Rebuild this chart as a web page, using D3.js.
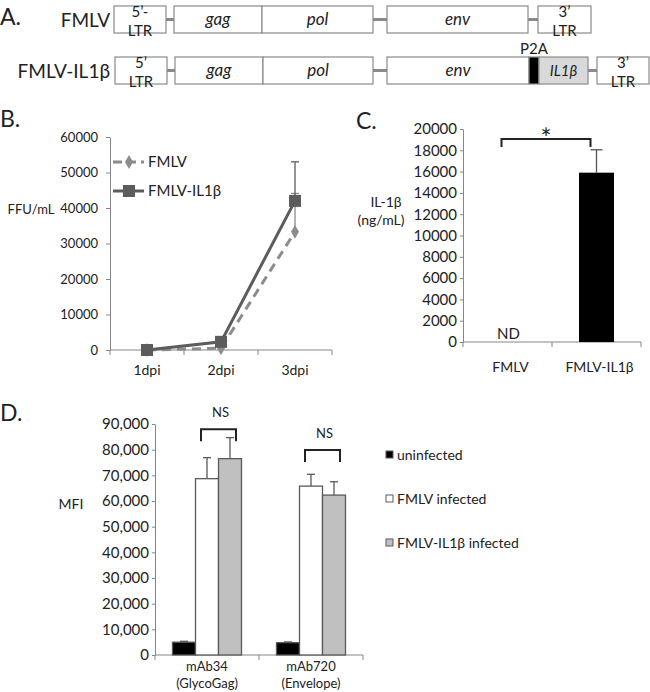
<!DOCTYPE html>
<html>
<head>
<meta charset="utf-8">
<script src="https://cdn.jsdelivr.net/npm/d3@7"></script>
<style>
body { margin: 0; background: #fff; }
svg text { font-family: Lato, "Open Sans", sans-serif; fill: #222; }
</style>
</head>
<body>
<script>
// ---- A. genome maps (positions along the construct, arbitrary units) ----
var fmlvParts = ["5’-|LTR", "gag", "pol", "env", "3’|LTR"];
var fmlvStart = [0, 60, 148, 273, 424];
var fmlvEnd   = [52, 148, 259, 414, 477];
var il1bParts = ["5’|LTR", "gag", "pol", "env", "P2A", "IL1β", "3’|LTR"];
var il1bStart = [1, 61, 149, 273, 415, 425, 483];
var il1bEnd   = [53, 149, 259, 415, 425, 474, 535];

// ---- B. virus titer ----
var days = ["1dpi", "2dpi", "3dpi"];
var titerFmlv = [0, 500, 33300];
var titerFmlvErr = [0, 0, 10800];
var titerIl1b = [0, 2300, 42000];
var titerIl1bErr = [0, 0, 11000];
var titerTicks = [0, 10000, 20000, 30000, 40000, 50000, 60000];

// ---- C. IL-1b ELISA ----
var elisaGroups = ["FMLV", "FMLV-IL1β"];
var elisaConc = [0, 15900];      // FMLV: not detected
var elisaErr = [0, 2150];
var elisaTicks = [0, 2000, 4000, 6000, 8000, 10000, 12000, 14000, 16000, 18000, 20000];

// ---- D. MFI ----
var mfiGroups = ["mAb34|(GlycoGag)", "mAb720|(Envelope)"];
var mfiSeries = ["uninfected", "FMLV infected", "FMLV-IL1β infected"];
var mfiUninf = [5000, 4800];
var mfiUninfErr = [350, 300];
var mfiFmlv = [68700, 65800];
var mfiFmlvErr = [8200, 4600];
var mfiIl1b = [76500, 62300];
var mfiIl1bErr = [8200, 5200];
var mfiTicks = [0, 10000, 20000, 30000, 40000, 50000, 60000, 70000, 80000, 90000];
var nsLevel = [88000, 79900];

var axisColor = "#868686";
var svg = d3.select("body").append("svg").attr("width", 650).attr("height", 692);

function panelLetter(t, x, y) {
  svg.append("text").attr("x", x).attr("y", y).attr("font-size", 23).text(t);
}

function yAxis(scale, x, ticks, fmt, size, pad, fs) {
  var g = svg.append("g").attr("transform", "translate(" + x + ",0)")
    .call(d3.axisLeft(scale).tickValues(ticks).tickFormat(fmt).tickSize(size).tickPadding(pad).tickSizeOuter(0));
  g.selectAll("path,line").attr("stroke", axisColor);
  g.selectAll("text").attr("font-size", fs).attr("fill", "#222");
  return g;
}

function xAxisLine(band, y) {
  var r = band.range();
  svg.append("line").attr("x1", r[0]).attr("x2", r[1]).attr("y1", y).attr("y2", y).attr("stroke", axisColor);
  var bounds = band.domain().map(function(d) { return band(d); }).concat([r[1]]);
  svg.selectAll(null).data(bounds).enter().append("line")
    .attr("x1", function(d) { return d; }).attr("x2", function(d) { return d; })
    .attr("y1", y).attr("y2", y + 5).attr("stroke", axisColor);
}

function errBar(x, y0, y1, w, color) {
  svg.append("line").attr("x1", x).attr("x2", x).attr("y1", y0).attr("y2", y1).attr("stroke", color).attr("stroke-width", 1.3);
  svg.append("line").attr("x1", x - w / 2).attr("x2", x + w / 2).attr("y1", y1).attr("y2", y1).attr("stroke", color).attr("stroke-width", 1.3);
}

// ================= A =================
panelLetter("A.", 0, 25);
var gx = d3.scaleLinear().domain([0, 535]).range([114, 649]);
var rows = [
  {name: "FMLV", parts: fmlvParts, start: fmlvStart, end: fmlvEnd, top: 6},
  {name: "FMLV-IL1β", parts: il1bParts, start: il1bStart, end: il1bEnd, top: 57}
];
var boxH = 27;
rows.forEach(function(r) {
  var cy = r.top + boxH / 2;
  svg.append("text").attr("x", 110).attr("y", cy + 7).attr("text-anchor", "end").attr("font-size", 19).text(r.name);
  for (var i = 0; i < r.parts.length - 1; i++) {
    if (r.end[i] < r.start[i + 1]) {
      svg.append("line").attr("x1", gx(r.end[i])).attr("x2", gx(r.start[i + 1]))
        .attr("y1", cy).attr("y2", cy).attr("stroke", "#8a8a8a").attr("stroke-width", 3);
    }
  }
  r.parts.forEach(function(p, i) {
    var x0 = gx(r.start[i]), x1 = gx(r.end[i]);
    var fill = p === "P2A" ? "#000" : (p === "IL1β" ? "#d9d9d9" : "#fff");
    svg.append("rect").attr("x", x0).attr("y", r.top).attr("width", x1 - x0).attr("height", boxH)
      .attr("fill", fill).attr("stroke", "#8a8a8a").attr("stroke-width", 1.2);
    var mid = (x0 + x1) / 2;
    if (p.indexOf("|") >= 0) {
      var l = p.split("|");
      svg.append("text").attr("x", mid).attr("y", r.top + 11).attr("text-anchor", "middle").attr("font-size", 15).text(l[0]);
      svg.append("text").attr("x", mid).attr("y", r.top + 30).attr("text-anchor", "middle").attr("font-size", 15).text(l[1]);
    } else if (p === "P2A") {
      svg.append("text").attr("x", mid).attr("y", r.top - 3).attr("text-anchor", "middle").attr("font-size", 15).text(p);
    } else {
      svg.append("text").attr("x", mid).attr("y", cy + 5).attr("text-anchor", "middle")
        .attr("font-size", p === "IL1β" ? 15 : 17).attr("font-style", "italic").text(p);
    }
  });
});

// ================= B =================
panelLetter("B.", 0, 127);
var bx = d3.scaleBand().domain(days).range([110, 332]);
var by = d3.scaleLinear().domain([0, 60000]).range([350, 137]);
yAxis(by, 110, titerTicks, d3.format("d"), 4, 8, 13);
xAxisLine(bx, 350);
svg.selectAll(null).data(days).enter().append("text")
  .attr("x", function(d) { return bx(d) + bx.bandwidth() / 2; }).attr("y", 375)
  .attr("text-anchor", "middle").attr("font-size", 14).text(function(d) { return d; });
svg.append("text").attr("x", 31).attr("y", 214).attr("text-anchor", "middle").attr("font-size", 13).text("FFU/mL");

var cxB = function(d, i) { return bx(days[i]) + bx.bandwidth() / 2; };
var colFmlv = "#8c8c8c", colIl1b = "#5c5c5c";
var line = d3.line().x(cxB).y(function(d) { return by(d); });

titerFmlvErr.forEach(function(e, i) { if (e > 0) errBar(cxB(0, i), by(titerFmlv[i]), by(titerFmlv[i] + e), 8, colFmlv); });
titerIl1bErr.forEach(function(e, i) { if (e > 0) errBar(cxB(0, i), by(titerIl1b[i]), by(titerIl1b[i] + e), 8, colIl1b); });

svg.append("path").datum(titerFmlv).attr("d", line).attr("fill", "none")
  .attr("stroke", colFmlv).attr("stroke-width", 3).attr("stroke-dasharray", "9,6");
svg.append("path").datum(titerIl1b).attr("d", line).attr("fill", "none")
  .attr("stroke", colIl1b).attr("stroke-width", 3);
var diamond = d3.symbol().type(d3.symbolDiamond).size(55);
svg.selectAll(null).data(titerFmlv).enter().append("path").attr("d", diamond)
  .attr("transform", function(d, i) { return "translate(" + cxB(d, i) + "," + by(d) + ")"; })
  .attr("fill", colFmlv);
svg.selectAll(null).data(titerIl1b).enter().append("rect")
  .attr("x", function(d, i) { return cxB(d, i) - 6; }).attr("y", function(d) { return by(d) - 6; })
  .attr("width", 12).attr("height", 12).attr("fill", colIl1b);

// legend
var legB = [{name: "FMLV", col: colFmlv, dash: "9,5", y: 162}, {name: "FMLV-IL1β", col: colIl1b, dash: null, y: 191}];
legB.forEach(function(l, i) {
  svg.append("line").attr("x1", 113).attr("x2", 144).attr("y1", l.y).attr("y2", l.y)
    .attr("stroke", l.col).attr("stroke-width", 3).attr("stroke-dasharray", l.dash);
  if (i === 0) svg.append("path").attr("d", diamond).attr("transform", "translate(129," + l.y + ")").attr("fill", l.col);
  else svg.append("rect").attr("x", 123).attr("y", l.y - 6).attr("width", 12).attr("height", 12).attr("fill", l.col);
  svg.append("text").attr("x", 148).attr("y", l.y + 5).attr("font-size", 15).text(l.name);
});

// ================= C =================
panelLetter("C.", 356, 129);
var cx = d3.scaleBand().domain(elisaGroups).range([463, 641]);
var cy = d3.scaleLinear().domain([0, 20000]).range([342, 129]);
yAxis(cy, 463, elisaTicks, d3.format("d"), 3, 3, 15);
xAxisLine(cx, 342);
var cbw = 35;
elisaGroups.forEach(function(g, i) {
  var mid = cx(g) + cx.bandwidth() / 2;
  if (elisaConc[i] > 0) {
    svg.append("rect").attr("x", mid - cbw / 2).attr("y", cy(elisaConc[i])).attr("width", cbw)
      .attr("height", cy(0) - cy(elisaConc[i])).attr("fill", "#000");
    errBar(mid, cy(elisaConc[i]), cy(elisaConc[i] + elisaErr[i]), 12, "#555");
  } else {
    svg.append("text").attr("x", mid + 1).attr("y", 339).attr("text-anchor", "middle").attr("font-size", 15).text("ND");
  }
  svg.append("text").attr("x", mid + 3).attr("y", 372).attr("text-anchor", "middle").attr("font-size", 14).text(g);
});
svg.append("text").attr("x", 386).attr("y", 207).attr("text-anchor", "middle").attr("font-size", 14).text("IL-1β");
svg.append("text").attr("x", 381).attr("y", 225).attr("text-anchor", "middle").attr("font-size", 14).text("(ng/mL)");
// significance bracket
var cMid0 = cx(elisaGroups[0]) + cx.bandwidth() / 2 - 6, cMid1 = cx(elisaGroups[1]) + cx.bandwidth() / 2 - 6;
var cTop = cy(19060);
svg.append("path").attr("d", "M" + cMid0 + "," + (cTop + 8) + "V" + cTop + "H" + cMid1 + "V" + (cTop + 8))
  .attr("fill", "none").attr("stroke", "#222").attr("stroke-width", 2);
svg.append("text").attr("x", (cMid0 + cMid1) / 2).attr("y", cTop + 9).attr("text-anchor", "middle").attr("font-size", 26).text("*");

// ================= D =================
panelLetter("D.", 0, 421);
var dx = d3.scaleBand().domain(mfiGroups).range([155, 363]);
var dx1 = d3.scaleBand().domain(mfiSeries).range([0, 69]);
var dOff = (dx.bandwidth() - 69) / 2;
var dy = d3.scaleLinear().domain([0, 90000]).range([655, 424]);
yAxis(dy, 155, mfiTicks, d3.format(","), 3, 3, 15);
xAxisLine(dx, 655);
svg.append("text").attr("x", 71).attr("y", 509).attr("text-anchor", "middle").attr("font-size", 14).text("MFI");

var mfiVals = [mfiUninf, mfiFmlv, mfiIl1b];
var mfiErrs = [mfiUninfErr, mfiFmlvErr, mfiIl1bErr];
var mfiFill = ["#000", "#fff", "#c0c0c0"];
mfiGroups.forEach(function(g, gi) {
  var base = dx(g) + dOff;
  mfiSeries.forEach(function(s, si) {
    var v = mfiVals[si][gi], x0 = base + dx1(s);
    svg.append("rect").attr("x", x0).attr("y", dy(v)).attr("width", dx1.bandwidth())
      .attr("height", dy(0) - dy(v)).attr("fill", mfiFill[si]).attr("stroke", "#5a5a5a").attr("stroke-width", 1.3);
    errBar(x0 + dx1.bandwidth() / 2, dy(v), dy(v + mfiErrs[si][gi]), 8, "#5a5a5a");
  });
  var l = g.split("|"), mid = dx(g) + dx.bandwidth() / 2;
  svg.append("text").attr("x", mid).attr("y", 671).attr("text-anchor", "middle").attr("font-size", 13).text(l[0]);
  svg.append("text").attr("x", mid).attr("y", 688).attr("text-anchor", "middle").attr("font-size", 13).text(l[1]);
  // NS bracket
  var a = base + dx1(mfiSeries[1]) + dx1.bandwidth() / 2 - 6;
  var b = base + dx1(mfiSeries[2]) + dx1.bandwidth() / 2 + 6;
  var t = dy(nsLevel[gi]);
  svg.append("path").attr("d", "M" + a + "," + (t + 12) + "V" + t + "H" + b + "V" + (t + 12))
    .attr("fill", "none").attr("stroke", "#222").attr("stroke-width", 2);
  svg.append("text").attr("x", (a + b) / 2 + 2).attr("y", t - 12).attr("text-anchor", "middle").attr("font-size", 13).text("NS");
});

// legend
mfiSeries.forEach(function(s, i) {
  var y = 455 + i * 44;
  svg.append("rect").attr("x", 386).attr("y", y - 4).attr("width", 7).attr("height", 7)
    .attr("fill", mfiFill[i]).attr("stroke", "#5a5a5a");
  svg.append("text").attr("x", 397).attr("y", y + 5).attr("font-size", 14).text(s);
});
</script>
</body>
</html>
